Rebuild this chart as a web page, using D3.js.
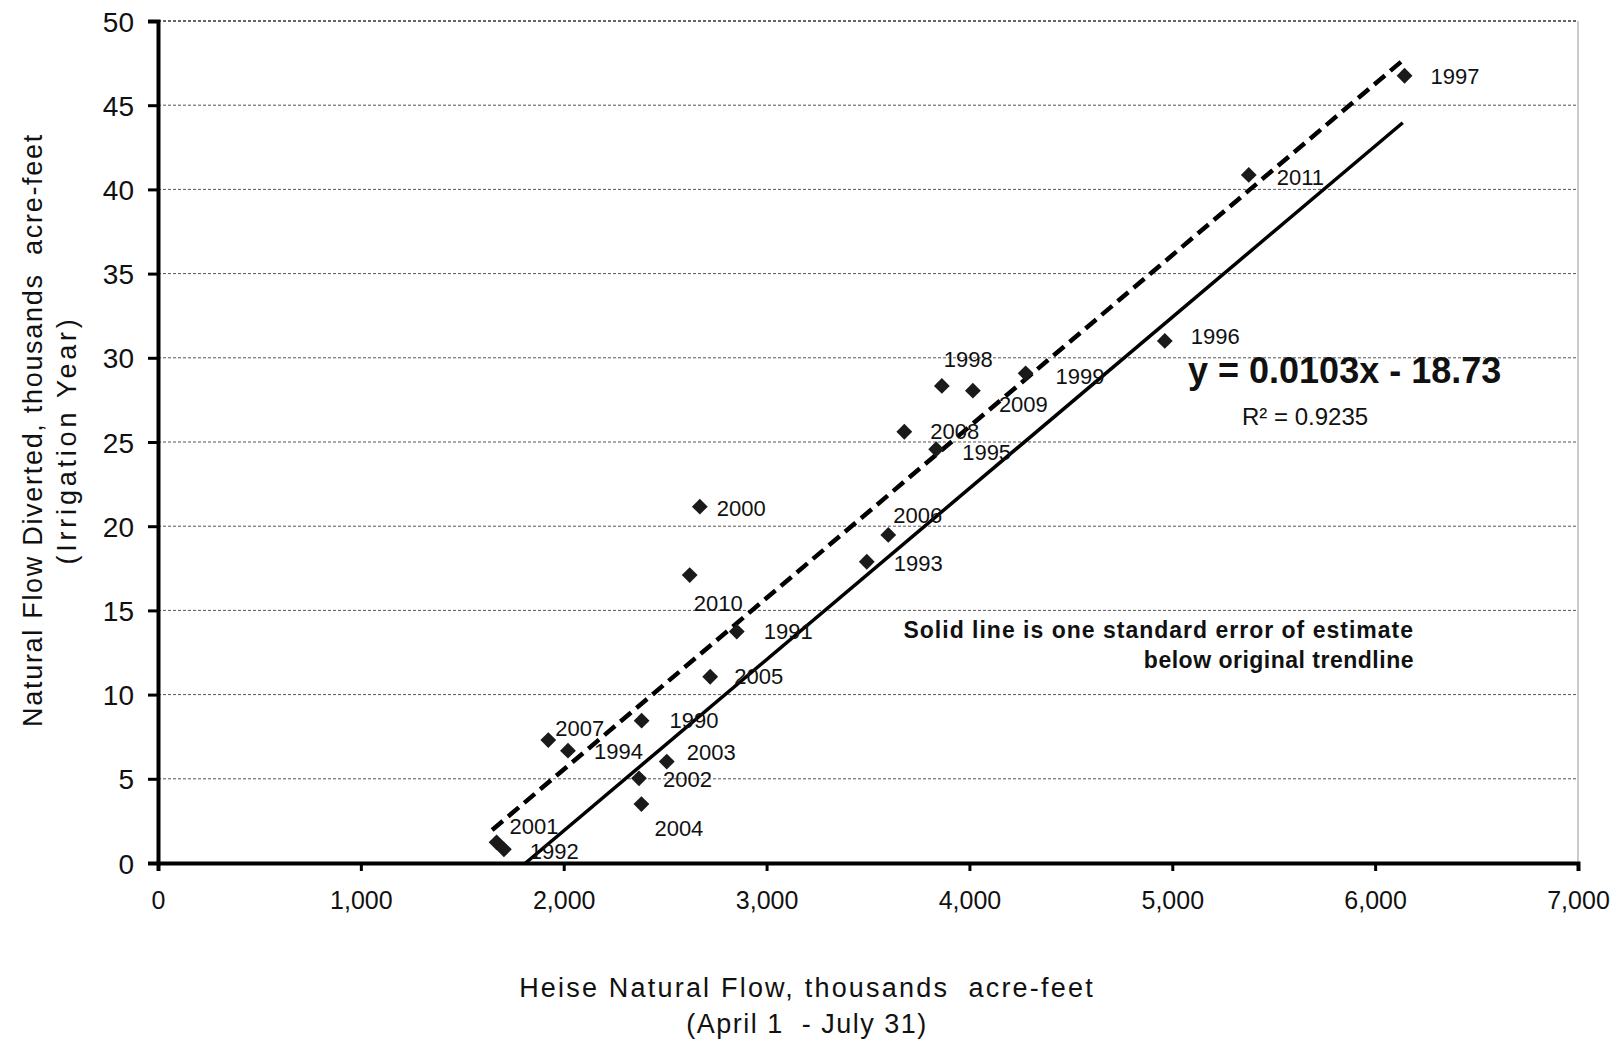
<!DOCTYPE html>
<html><head><meta charset="utf-8">
<script src="https://cdn.jsdelivr.net/npm/d3@7"></script>
<style>
html,body{margin:0;padding:0;background:#fff;}
svg{display:block;font-family:"Liberation Sans", Arial, sans-serif;}
</style></head><body>
<svg id="chart" width="1623" height="1040"></svg>
<script>
// ---- data ----
const years      = [1997, 2011, 1996, 1999, 1998, 2009, 2008, 1995, 2000, 2010, 2006, 1993, 1991, 2005, 1990, 2007, 1994, 2003, 2002, 2004, 2001, 1992];
const heiseFlow  = [6145, 5377, 4963, 4277, 3864, 4017, 3679, 3836, 2671, 2621, 3600, 3494, 2853, 2722, 2384, 1924, 2021, 2508, 2371, 2383, 1669, 1705];
const diverted   = [46.75, 40.86, 31.0, 29.08, 28.33, 28.05, 25.61, 24.57, 21.16, 17.1, 19.48, 17.89, 13.74, 11.06, 8.45, 7.30, 6.67, 6.02, 5.03, 3.50, 1.23, 0.81];
const xTicks = [0, 1000, 2000, 3000, 4000, 5000, 6000, 7000];
const yTicks = [0, 5, 10, 15, 20, 25, 30, 35, 40, 45, 50];
const trendX  = [1647, 6128];   // original trendline (dashed)
const trendY  = [1.96, 47.58];
const lowerX  = [1812, 6136];   // one standard error below (solid)
const lowerY  = [0, 43.96];
const equationText = "y = 0.0103x - 18.73";
const r2Text = "R\u00B2 = 0.9235";
const noteLines = ["Solid line is one standard error of estimate", "below original trendline"];
const xTitleLines = ["Heise Natural Flow, thousands  acre-feet", "(April 1  - July 31)"];
const yTitleLines = ["Natural Flow Diverted, thousands  acre-feet", "(Irrigation Year)"];

// ---- label placement (pixels, relative to point) ----
const labelOffset = {
  1997:[26,1], 2011:[28,2], 1996:[26,-5], 1999:[30,3], 1998:[2,-27], 2009:[26,14],
  2008:[26,0], 1995:[26,3], 2000:[17,2], 2010:[4,28], 2006:[5,-20], 1993:[27,2],
  1991:[27,0], 2005:[24,0], 1990:[28,0], 2007:[7,-12], 1994:[26,1], 2003:[20,-9],
  2002:[24,1], 2004:[13,24], 2001:[13,-16], 1992:[26,2]
};

const svg = d3.select("#chart");
const x = d3.scaleLinear().domain([0, 7000]).range([158, 1578]);
const y = d3.scaleLinear().domain([0, 50]).range([863, 21]);

// gridlines
svg.append("g").selectAll("line").data(yTicks.filter(d => d > 0)).join("line")
  .attr("x1", x(0)).attr("x2", x(7000))
  .attr("y1", d => y(d)).attr("y2", d => y(d))
  .attr("stroke", d => d === 50 ? "#333" : "#555")
  .attr("stroke-width", d => d === 50 ? 1.6 : 1)
  .attr("stroke-dasharray", "3,2");

// right border
svg.append("line").attr("x1", x(7000)).attr("x2", x(7000)).attr("y1", y(50)).attr("y2", y(0))
  .attr("stroke", "#999").attr("stroke-width", 1);

// axes
const yAxis = d3.axisLeft(y).tickValues(yTicks).tickSize(10).tickFormat(d3.format("d"));
const gy = svg.append("g").attr("transform", `translate(${x(0)},0)`).call(yAxis);
gy.select(".domain").attr("stroke", "#000").attr("stroke-width", 4);
gy.selectAll(".tick line").attr("stroke", "#000").attr("stroke-width", 3);
gy.selectAll(".tick text").attr("x", -24).attr("dy", "0.36em")
  .attr("font-size", 28).attr("fill", "#111").attr("font-family", "Liberation Sans, Arial, sans-serif");

const xAxis = d3.axisBottom(x).tickValues(xTicks).tickSize(8).tickFormat(d3.format(","));
const gx = svg.append("g").attr("transform", `translate(0,${y(0)})`).call(xAxis);
gx.select(".domain").attr("stroke", "#000").attr("stroke-width", 4);
gx.selectAll(".tick line").attr("stroke", "#000").attr("stroke-width", 3);
gx.selectAll(".tick text").attr("y", 37).attr("dy", "0.35em")
  .attr("font-size", 25).attr("fill", "#111").attr("font-family", "Liberation Sans, Arial, sans-serif");

// trend lines
const line = d3.line().x(d => x(d[0])).y(d => y(d[1]));
svg.append("path").datum(d3.zip(trendX, trendY)).attr("d", line)
  .attr("fill", "none").attr("stroke", "#000").attr("stroke-width", 4.5).attr("stroke-dasharray", "14,7");
svg.append("path").datum(d3.zip(lowerX, lowerY)).attr("d", line)
  .attr("fill", "none").attr("stroke", "#000").attr("stroke-width", 3.5);

// points
const pts = years.map((yr, i) => ({yr, fx: heiseFlow[i], dv: diverted[i]}));
const sym = d3.symbol().type(d3.symbolSquare).size(125);
svg.append("g").selectAll("path").data(pts).join("path")
  .attr("d", sym)
  .attr("transform", d => `translate(${x(d.fx)},${y(d.dv)}) rotate(45)`)
  .attr("fill", "#1a1a1a");

// point labels
svg.append("g").selectAll("text").data(pts).join("text")
  .attr("x", d => x(d.fx) + labelOffset[d.yr][0])
  .attr("y", d => y(d.dv) + labelOffset[d.yr][1])
  .attr("dy", "0.35em")
  .attr("font-size", 22).attr("fill", "#111")
  .text(d => d.yr);

// equation
svg.append("text").attr("x", 1188).attr("y", 383).attr("font-size", 36).attr("font-weight", "bold")
  .attr("fill", "#111").text(equationText);
svg.append("text").attr("x", 1242).attr("y", 425).attr("font-size", 24).attr("fill", "#111").text(r2Text);

// note
svg.append("g").selectAll("text").data(noteLines).join("text")
  .attr("x", 1414).attr("y", (d, i) => 630 + i * 30).attr("dy", "0.35em")
  .attr("text-anchor", "end").attr("font-size", 23).attr("font-weight", "bold")
  .attr("letter-spacing", (d, i) => i === 0 ? 1 : 0.5).attr("fill", "#111").text(d => d);

// axis titles
svg.append("g").selectAll("text").data(xTitleLines).join("text")
  .attr("x", 807).attr("y", (d, i) => 988 + i * 36).attr("dy", "0.35em")
  .attr("text-anchor", "middle").attr("font-size", 27)
  .attr("letter-spacing", (d, i) => i === 0 ? 2.2 : 1.5)
  .style("white-space", "pre").attr("fill", "#111").text(d => d);

svg.append("g").selectAll("text").data(yTitleLines).join("text")
  .attr("transform", (d, i) => `translate(${i === 0 ? 33 : 67},${i === 0 ? 430 : 440}) rotate(-90)`)
  .attr("dy", "0.35em")
  .attr("text-anchor", "middle").attr("font-size", 27)
  .attr("letter-spacing", (d, i) => i === 0 ? 1.7 : 3.8)
  .style("white-space", "pre").attr("fill", "#111").text(d => d);
</script>
</body></html>
